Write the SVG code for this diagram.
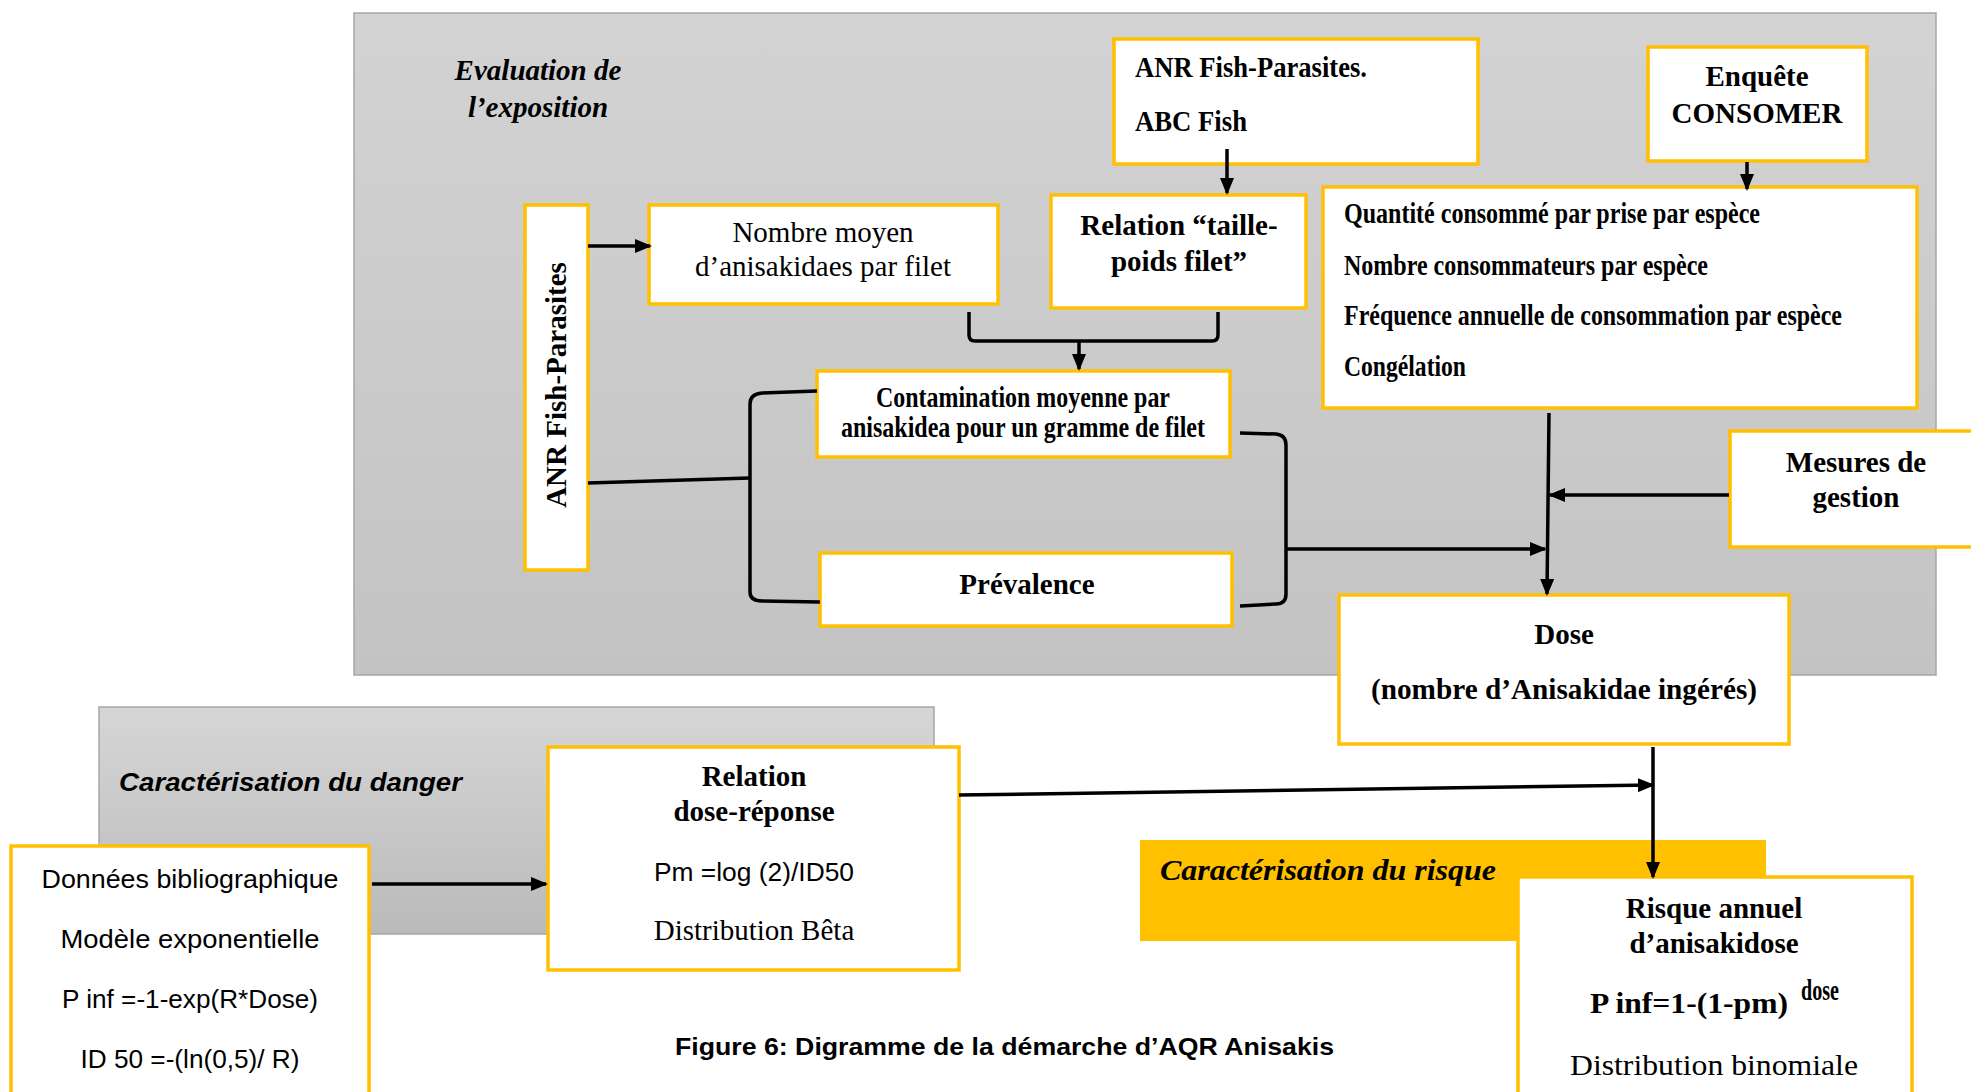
<svg xmlns="http://www.w3.org/2000/svg" width="1971" height="1092" viewBox="0 0 1971 1092">
<style>
.bg{stroke:#a6a6a6;stroke-width:1.5}
.box{fill:#fff;stroke:#FFC000;stroke-width:3.5}
.tb{font-family:"Liberation Serif","Times New Roman",serif;font-weight:bold;font-size:29px;fill:#000}
.tr{font-family:"Liberation Serif","Times New Roman",serif;font-size:29px;fill:#000}
.tbi{font-family:"Liberation Serif","Times New Roman",serif;font-weight:bold;font-style:italic;font-size:29px;fill:#000}
.cal{font-family:"Liberation Sans",Arial,sans-serif;font-size:25px;fill:#000}
.mid{text-anchor:middle}
.ln{fill:none;stroke:#000;stroke-width:3.5}
.arr{fill:none;stroke:#000;stroke-width:3.5;marker-end:url(#ah)}
</style>
<defs>
<linearGradient id="g1" x1="0" y1="0" x2="0" y2="1"><stop offset="0" stop-color="#d3d3d3"/><stop offset="1" stop-color="#c3c3c3"/></linearGradient>
<linearGradient id="g2" x1="0" y1="0" x2="0" y2="1"><stop offset="0" stop-color="#d6d6d6"/><stop offset="1" stop-color="#bababa"/></linearGradient>
<marker id="ah" markerWidth="17" markerHeight="14" refX="15" refY="7" orient="auto" markerUnits="userSpaceOnUse"><path d="M0,0 L17,7 L0,14 z" fill="#000"/></marker>
</defs>
<rect width="1971" height="1092" fill="#fff"/>
<g id="bg-exposition">
<rect class="bg" x="354" y="13" width="1582" height="662" fill="url(#g1)"/>
<text class="tbi mid" x="538" y="80">Evaluation de</text>
<text class="tbi mid" x="538" y="117">l’exposition</text>
</g>
<g id="bg-danger">
<rect class="bg" x="99" y="707" width="835" height="227" fill="url(#g2)"/>
<text class="cal" x="119" y="791" font-weight="bold" font-style="italic" font-size="27" textLength="343" lengthAdjust="spacingAndGlyphs">Caractérisation du danger</text>
</g>
<g id="bg-risque">
<rect x="1140" y="840" width="626" height="101" fill="#FFC000"/>
<text class="tbi" x="1160" y="880" font-size="31" textLength="336" lengthAdjust="spacingAndGlyphs">Caractérisation du risque</text>
</g>
<g id="n-anr-vert">
<rect class="box" x="525" y="205" width="63" height="365"/>
<text class="tb mid" transform="translate(566,385) rotate(-90)">ANR Fish-Parasites</text>
</g>
<g id="n-nombre">
<rect class="box" x="649" y="205" width="349" height="99"/>
<text class="tr mid" x="823" y="242">Nombre moyen</text>
<text class="tr mid" x="823" y="276">d’anisakidaes par filet</text>
</g>
<g id="n-anr-abc">
<rect class="box" x="1114" y="39" width="364" height="125"/>
<text class="tb" x="1135" y="77" font-size="26.5" textLength="232" lengthAdjust="spacingAndGlyphs">ANR Fish-Parasites.</text>
<text class="tb" x="1135" y="131" font-size="26.5" textLength="112" lengthAdjust="spacingAndGlyphs">ABC Fish</text>
</g>
<g id="n-relation-taille">
<rect class="box" x="1051" y="195" width="255" height="113"/>
<text class="tb mid" x="1179" y="235">Relation “taille-</text>
<text class="tb mid" x="1179" y="271">poids filet”</text>
</g>
<g id="n-enquete">
<rect class="box" x="1648" y="47" width="219" height="114"/>
<text class="tb mid" x="1757" y="86">Enquête</text>
<text class="tb mid" x="1757" y="123">CONSOMER</text>
</g>
<g id="n-quantite">
<rect class="box" x="1323" y="187" width="594" height="221"/>
<text class="tb" x="1344" y="223" font-size="24" textLength="416" lengthAdjust="spacingAndGlyphs">Quantité consommé par prise par espèce</text>
<text class="tb" x="1344" y="275" font-size="24" textLength="364" lengthAdjust="spacingAndGlyphs">Nombre consommateurs par espèce</text>
<text class="tb" x="1344" y="325" font-size="24" textLength="498" lengthAdjust="spacingAndGlyphs">Fréquence annuelle de consommation par espèce</text>
<text class="tb" x="1344" y="376" font-size="24" textLength="122" lengthAdjust="spacingAndGlyphs">Congélation</text>
</g>
<g id="n-contamination">
<rect class="box" x="817" y="371" width="413" height="86"/>
<text class="tb mid" x="1023" y="407" font-size="24" textLength="294" lengthAdjust="spacingAndGlyphs">Contamination moyenne par</text>
<text class="tb mid" x="1023" y="437" font-size="24" textLength="364" lengthAdjust="spacingAndGlyphs">anisakidea pour un gramme de filet</text>
</g>
<g id="n-prevalence">
<rect class="box" x="820" y="553" width="412" height="73"/>
<text class="tb mid" x="1027" y="594">Prévalence</text>
</g>
<g id="n-mesures">
<rect class="box" x="1730" y="431" width="270" height="116"/>
<text class="tb mid" x="1856" y="472">Mesures de</text>
<text class="tb mid" x="1856" y="507">gestion</text>
</g>
<g id="n-dose">
<rect class="box" x="1339" y="595" width="450" height="149"/>
<text class="tb mid" x="1564" y="644">Dose</text>
<text class="tb mid" x="1564" y="699" textLength="386" lengthAdjust="spacingAndGlyphs">(nombre d’Anisakidae ingérés)</text>
</g>
<g id="n-donnees">
<rect class="box" x="11" y="846" width="358" height="270"/>
<text class="cal mid" x="190" y="888" textLength="297" lengthAdjust="spacingAndGlyphs">Données bibliographique</text>
<text class="cal mid" x="190" y="948" textLength="259" lengthAdjust="spacingAndGlyphs">Modèle exponentielle</text>
<text class="cal mid" x="190" y="1008" textLength="256" lengthAdjust="spacingAndGlyphs">P inf =-1-exp(R*Dose)</text>
<text class="cal mid" x="190" y="1068" textLength="219" lengthAdjust="spacingAndGlyphs">ID 50 =-(ln(0,5)/ R)</text>
</g>
<g id="n-dose-reponse">
<rect class="box" x="548" y="747" width="411" height="223"/>
<text class="tb mid" x="754" y="786">Relation</text>
<text class="tb mid" x="754" y="821">dose-réponse</text>
<text class="cal mid" x="754" y="881" textLength="200" lengthAdjust="spacingAndGlyphs">Pm =log (2)/ID50</text>
<text class="tr mid" x="754" y="940">Distribution Bêta</text>
</g>
<g id="n-risque">
<rect class="box" x="1518" y="877" width="394" height="240"/>
<text class="tb mid" x="1714" y="918">Risque annuel</text>
<text class="tb mid" x="1714" y="953">d’anisakidose</text>
<text class="tb" x="1590" y="1013" font-size="32" textLength="198" lengthAdjust="spacingAndGlyphs">P inf=1-(1-pm)</text>
<text class="tb" x="1801" y="1000" font-size="20" textLength="38" lengthAdjust="spacingAndGlyphs">dose</text>
<text class="tr mid" x="1714" y="1075" font-size="30" textLength="288" lengthAdjust="spacingAndGlyphs">Distribution binomiale</text>
</g>
<g id="caption">
<text x="675" y="1055" font-family="Liberation Sans, Arial, sans-serif" font-weight="bold" font-size="24" textLength="659" lengthAdjust="spacingAndGlyphs">Figure 6: Digramme de la démarche d’AQR Anisakis</text>
</g>
<g id="connectors">
<path class="arr" d="M588,246 L650,246"/>
<path class="arr" d="M1227,149 L1227,193"/>
<path class="arr" d="M1747,162 L1747,189"/>
<path class="ln" d="M969,312 L969,335 Q969,341 975,341 L1212,341 Q1218,341 1218,335 L1218,312"/>
<path class="arr" d="M1079,341 L1079,369"/>
<path class="ln" d="M588,483 L750,478"/>
<path class="ln" d="M817,391 L762,393 Q750,394 750,404 L750,592 Q750,601 762,601 L820,602"/>
<path class="ln" d="M1240,433 L1276,434 Q1286,435 1286,445 L1286,594 Q1286,604 1276,604 L1240,606"/>
<path class="arr" d="M1286,549 L1545,549"/>
<path class="arr" d="M1549,413 L1547,594"/>
<path class="arr" d="M1729,495 L1550,495"/>
<path class="arr" d="M372,884 L546,884"/>
<path class="arr" d="M959,795 L1653,785"/>
<path class="arr" d="M1653,747 L1653,877"/>
</g>
</svg>
